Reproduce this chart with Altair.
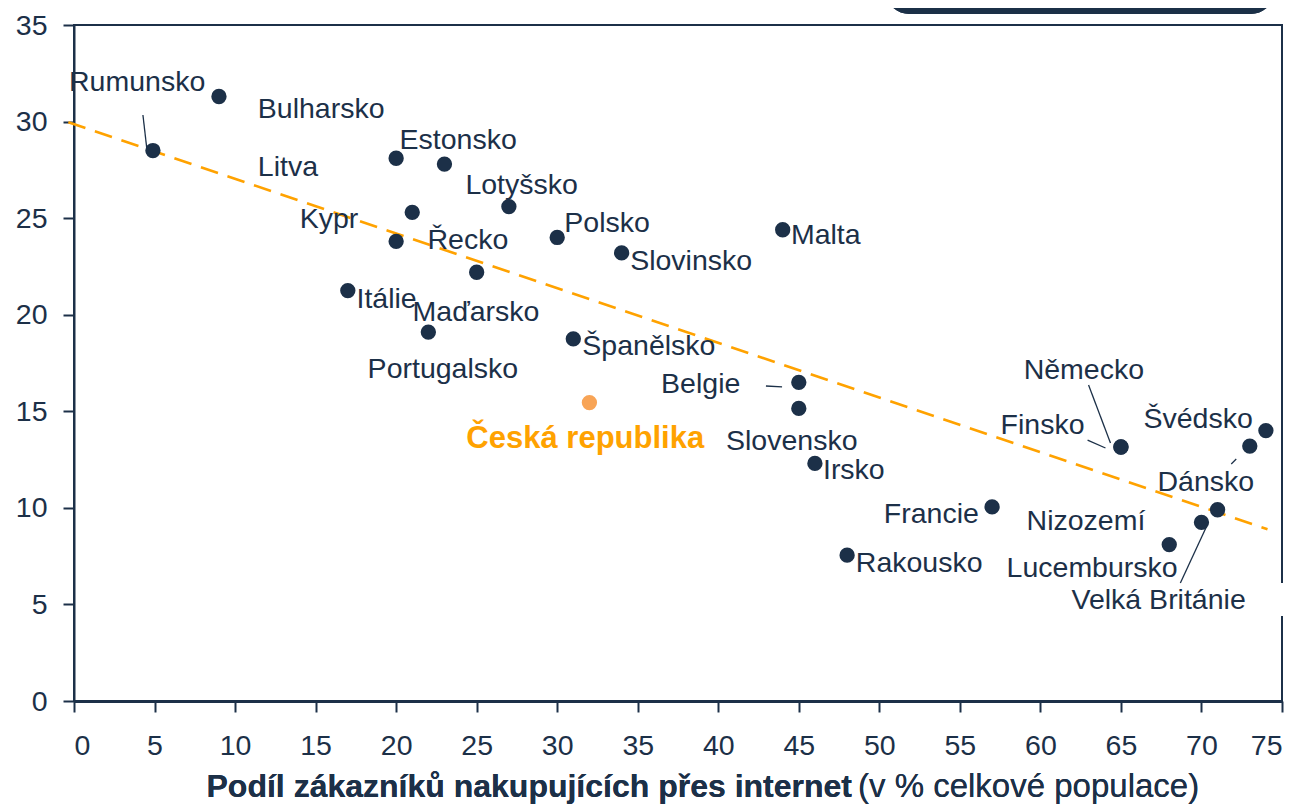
import altair as alt
import pandas as pd

NAVY = "#1C3048"
ORANGE = "#FFA200"
ORANGE_PT = "#F8A456"
FONT = "Liberation Sans"

# ---- data ----
countries = ["Rumunsko", "Bulharsko", "Litva", "Estonsko", "Kypr", "Lotyšsko",
             "Polsko", "Řecko", "Malta", "Slovinsko", "Maďarsko", "Itálie",
             "Portugalsko", "Španělsko", "Česká republika", "Belgie", "Slovensko",
             "Irsko", "Francie", "Rakousko", "Německo", "Finsko", "Švédsko",
             "Dánsko", "Nizozemí", "Velká Británie", "Lucembursko"]
internet_share = [4.9, 9, 20, 23, 21, 27, 30, 20, 44, 34, 25, 17, 22, 31, 32, 45, 45,
                  46, 57, 48, 65, 65, 74, 73, 71, 70, 68]
y_values = [28.5, 31.3, 28.1, 27.8, 25.3, 25.6, 24.0, 23.8, 24.4, 23.2, 22.2, 21.25,
            19.1, 18.75, 15.45, 16.5, 15.15, 12.3, 10.05, 7.55, 13.15, 13.15, 14.0,
            13.2, 9.9, 9.25, 8.1]
label_x = [-0.31, 11.41, 11.41, 20.21, 14.01, 24.30, 30.44, 21.95, 44.51, 34.53,
           21.02, 17.54, 18.23, 31.56, 24.36, 36.45, 40.48, 46.5, 50.28, 48.54,
           58.96, 57.53, 66.4, 67.27, 59.14, 61.93, 57.9]
label_y = [32.15, 30.75, 27.75, 29.15, 25.06, 26.82, 24.85, 23.97, 24.23, 22.88,
           20.24, 20.91, 17.29, 18.48, 13.67, 16.52, 13.57, 12.06, 9.79, 7.25,
           17.24, 14.39, 14.7, 11.44, 9.42, 5.33, 6.99]
highlight = [c == "Česká republika" for c in countries]

# leader lines (start x, start y, end x, end y)
leader_x1 = [4.28, 42.96, 62.99, 62.93, 71.85, 68.69]
leader_y1 = [30.34, 16.31, 16.36, 13.51, 12.27, 6.11]
leader_x2 = [4.53, 43.96, 64.35, 64.04, 72.16, 70.30]
leader_y2 = [28.53, 16.26, 13.36, 13.10, 12.53, 9.01]

# trend line end points
trend_x = [-0.35, 74.1]
trend_y = [29.97, 8.89]

x_ticks = list(range(0, 80, 5))
y_ticks = list(range(0, 40, 5))

df = pd.DataFrame({"country": countries, "x": internet_share, "y": y_values,
                   "lx": label_x, "ly": label_y, "hl": highlight})
leaders = pd.DataFrame({"x1": leader_x1, "y1": leader_y1, "x2": leader_x2, "y2": leader_y2})
trend = pd.DataFrame({"x": trend_x, "y": trend_y})

xs = alt.Scale(domain=[0, 75], nice=False, zero=False)
ys = alt.Scale(domain=[0, 35], nice=False, zero=False)
xax = alt.Axis(values=x_ticks, title=None, grid=False, tickSize=11, labelPadding=19,
               domainWidth=3, format="d")
yax = alt.Axis(values=y_ticks, title=None, grid=False, tickSize=11, labelPadding=16,
               domainWidth=2, format="d")

def X(f):
    return alt.X(f, type="quantitative", scale=xs, axis=xax)

def Y(f):
    return alt.Y(f, type="quantitative", scale=ys, axis=yax)

trend_layer = alt.Chart(trend).mark_line(color=ORANGE, strokeWidth=2.6,
                                         strokeDash=[18, 10]).encode(x=X("x"), y=Y("y"))

leader_layer = alt.Chart(leaders).mark_rule(color=NAVY, strokeWidth=1.3).encode(
    x=X("x1"), y=Y("y1"), x2="x2", y2="y2")

pts = alt.Chart(df).transform_filter("!datum.hl").mark_circle(
    size=235, color=NAVY, opacity=1).encode(x=X("x"), y=Y("y"))
pt_cz = alt.Chart(df).transform_filter("datum.hl").mark_circle(
    size=235, color=ORANGE_PT, opacity=1).encode(x=X("x"), y=Y("y"))

labels = alt.Chart(df).transform_filter("!datum.hl").mark_text(
    align="left", baseline="middle", dy=2, font=FONT, fontSize=28.5, color=NAVY).encode(
    x=X("lx"), y=Y("ly"), text="country")
label_cz = alt.Chart(df).transform_filter("datum.hl").mark_text(
    align="left", baseline="middle", dy=2, font=FONT, fontSize=31, fontWeight="bold",
    color=ORANGE).encode(x=X("lx"), y=Y("ly"), text="country")

# white gap in the frame behind the "Velká Británie" label
gap = alt.Chart(trend).mark_rect(color="white").encode(
    x=alt.value(1198), x2=alt.value(1212), y=alt.value(558), y2=alt.value(591))

# dark rounded box at the top right (cut by the page edge)
box = alt.Chart(trend).mark_rect(color="#1B3047", cornerRadius=30).encode(
    x=alt.value(811), x2=alt.value(1201), y=alt.value(-60), y2=alt.value(-11))

title_bold = alt.Chart(trend).mark_text(
    align="right", baseline="alphabetic", font=FONT, fontSize=32, fontWeight="bold",
    color=NAVY).encode(x=alt.value(778), y=alt.value(772),
                       text=alt.value("Podíl zákazníků nakupujících přes internet"))
title_norm = alt.Chart(trend).mark_text(
    align="left", baseline="alphabetic", font=FONT, fontSize=33,
    color=NAVY).encode(x=alt.value(784), y=alt.value(772),
                       text=alt.value("(v % celkové populace)"))

chart = alt.layer(trend_layer, leader_layer, pts, pt_cz, labels, label_cz, gap, box,
                  title_bold, title_norm).properties(
    width=1208, height=676,
    autosize=alt.AutoSizeParams(type="none"),
    padding={"left": 66, "top": 17, "right": 10, "bottom": 103},
    background="white",
).configure_view(stroke=NAVY, strokeWidth=2).configure_axis(
    domainColor=NAVY, tickColor=NAVY, tickWidth=2, labelColor=NAVY,
    labelFont=FONT, labelFontSize=28.5)

chart.save("out.html", embed_options={"renderer": "svg", "actions": False})
